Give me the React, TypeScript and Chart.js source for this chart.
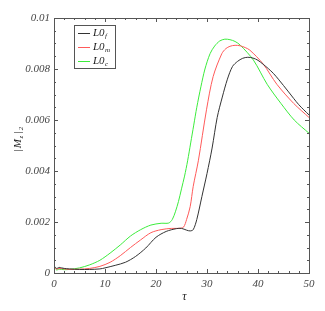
import React, { useEffect, useRef } from "react";
import { Chart, registerables } from "chart.js";
Chart.register(...registerables);

const seriesBase = ["L0", "L0", "L0"];
const seriesSubs = ["f", "m", "c"];
const seriesColors = ["#333333", "#ff5a5a", "#3cec3c"];

const tauF = [0, 0.5, 1, 1.5, 2, 3, 5, 7, 9, 10, 12, 14, 16, 18, 20, 22, 24, 25, 26, 26.7, 27.3, 28, 29, 30, 31, 32, 33, 34, 35, 36, 37, 38, 39, 40, 42, 43, 44, 46, 48, 50];
const valF = [0.00028, 0.00018, 0.00022, 0.0002, 0.00018, 0.00016, 0.00014, 0.00014, 0.00016, 0.0002, 0.0003, 0.00042, 0.00065, 0.00098, 0.0014, 0.00163, 0.00174, 0.00175, 0.00168, 0.00165, 0.0017, 0.0021, 0.003, 0.0039, 0.0049, 0.0061, 0.0069, 0.0076, 0.0081, 0.0083, 0.00842, 0.00846, 0.00843, 0.00834, 0.00802, 0.00783, 0.0076, 0.0071, 0.0066, 0.0062];

const tauM = [0, 0.5, 1, 2, 3, 5, 7, 9, 11, 13, 15, 17, 19, 21, 23, 24.5, 25.4, 26, 26.7, 27.3, 28.3, 29.9, 31.2, 32.9, 33.7, 34.5, 35.5, 36.5, 37.5, 38.4, 41, 43.7, 47, 50];
const valM = [0.00025, 0.00015, 0.00018, 0.00016, 0.00014, 0.00015, 0.00018, 0.00026, 0.00042, 0.00068, 0.001, 0.0013, 0.00158, 0.0017, 0.00175, 0.00175, 0.0018, 0.0021, 0.0026, 0.0034, 0.0044, 0.0064, 0.0077, 0.0086, 0.0088, 0.00889, 0.00893, 0.00891, 0.00884, 0.00874, 0.0082, 0.0074, 0.00665, 0.0061];

const tauC = [0, 0.5, 1, 2, 3, 5, 7, 9, 11, 13, 15, 17, 19, 21, 22.5, 23.2, 23.8, 24.4, 25, 25.6, 26.2, 26.8, 27.4, 28, 28.8, 29.6, 30.6, 31.5, 32.5, 33.5, 34.5, 35.5, 36.5, 39.1, 41.8, 44.5, 47.1, 50];
const valC = [0.00025, 0.00012, 0.00015, 0.00013, 0.00014, 0.0002, 0.00032, 0.0005, 0.00078, 0.0011, 0.00145, 0.0017, 0.00188, 0.00195, 0.00196, 0.0021, 0.0024, 0.0028, 0.0033, 0.0038, 0.0044, 0.0051, 0.0058, 0.0065, 0.0073, 0.0080, 0.0086, 0.0089, 0.0091, 0.00917, 0.00915, 0.00908, 0.00894, 0.00835, 0.0074, 0.00665, 0.006, 0.00548];

const xTickValues = [0, 10, 20, 30, 40, 50];
const yTickValues = [0, 0.002, 0.004, 0.006, 0.008, 0.01];
const yTickLabels = ["0", "0.002", "0.004", "0.006", "0.008", "0.01"];

const SERIF = "'Liberation Serif', 'Times New Roman', serif";

const framePlugin = {
  id: "frame",
  afterDraw(chart: any) {
    const { ctx, chartArea: a, scales } = chart;
    const xs = scales.x;
    const ys = scales.y;
    ctx.save();
    ctx.strokeStyle = "#555";
    ctx.lineWidth = 1;
    ctx.strokeRect(a.left + 0.5, a.top + 0.5, a.right - a.left, a.bottom - a.top);
    ctx.beginPath();
    for (let v = 0; v <= 50.001; v += 2) {
      const px = Math.round(xs.getPixelForValue(v)) + 0.5;
      const len = Math.abs(v % 10) < 0.001 ? 4 : 2;
      ctx.moveTo(px, a.bottom);
      ctx.lineTo(px, a.bottom - len);
      ctx.moveTo(px, a.top);
      ctx.lineTo(px, a.top + len);
    }
    for (let i = 0; i <= 20; i++) {
      const v = i * 0.0005;
      const py = Math.round(ys.getPixelForValue(v)) + 0.5;
      const len = i % 4 === 0 ? 4 : 2;
      ctx.moveTo(a.left, py);
      ctx.lineTo(a.left + len, py);
      ctx.moveTo(a.right, py);
      ctx.lineTo(a.right - len, py);
    }
    ctx.stroke();

    // legend
    const lx = 74, ly = 25, lw = 41, lh = 43;
    ctx.fillStyle = "#fff";
    ctx.fillRect(lx, ly, lw, lh);
    ctx.strokeStyle = "#555";
    ctx.strokeRect(lx + 0.5, ly + 0.5, lw, lh);
    chart.data.datasets.forEach((ds: any, i: number) => {
      const y = ly + 8 + i * 14;
      ctx.strokeStyle = ds.borderColor;
      ctx.beginPath();
      ctx.moveTo(lx + 4, y + 0.5);
      ctx.lineTo(lx + 16, y + 0.5);
      ctx.stroke();
      ctx.fillStyle = "#222";
      ctx.textBaseline = "middle";
      ctx.textAlign = "left";
      ctx.font = `italic 11px ${SERIF}`;
      ctx.fillText(seriesBase[i], lx + 19, y);
      const w = ctx.measureText(seriesBase[i]).width;
      ctx.font = `italic 7px ${SERIF}`;
      ctx.fillText(seriesSubs[i], lx + 19 + w + 0.5, y + 3);
    });

    // y title |M_z|_2
    ctx.save();
    ctx.translate(18, (a.top + a.bottom) / 2 - 6);
    ctx.rotate(-Math.PI / 2);
    ctx.fillStyle = "#222";
    ctx.textBaseline = "middle";
    ctx.textAlign = "left";
    const parts: [string, number, number, number][] = [["|", 11, 0, 1], ["M", 11, 0, 0.5], ["z", 7, 3, 1.5], ["|", 11, 0, 1], ["2", 7, 3, 0]];
    let total = 0;
    parts.forEach(([t, s, , g]) => {
      ctx.font = `italic ${s}px ${SERIF}`;
      total += ctx.measureText(t).width + g;
    });
    let cx = -total / 2;
    parts.forEach(([t, s, dy, g]) => {
      ctx.font = `italic ${s}px ${SERIF}`;
      ctx.fillText(t, cx, dy);
      cx += ctx.measureText(t).width + g;
    });
    ctx.restore();

    // x title
    ctx.fillStyle = "#222";
    ctx.font = `italic 12px ${SERIF}`;
    ctx.textAlign = "center";
    ctx.textBaseline = "middle";
    ctx.fillText("τ", (a.left + a.right) / 2 + 3, 297);
    ctx.restore();
  },
};

export default function App() {
  const ref = useRef<HTMLCanvasElement | null>(null);
  useEffect(() => {
    if (!ref.current) return;
    const mk = (t: number[], v: number[]) => t.map((x, i) => ({ x, y: v[i] }));
    const chart = new Chart(ref.current, {
      type: "line",
      data: {
        datasets: [
          { label: "L0f", data: mk(tauF, valF), borderColor: seriesColors[0] },
          { label: "L0m", data: mk(tauM, valM), borderColor: seriesColors[1] },
          { label: "L0c", data: mk(tauC, valC), borderColor: seriesColors[2] },
        ].map((d) => ({ ...d, borderWidth: 1, pointRadius: 0, fill: false, tension: 0.3 })),
      },
      options: {
        responsive: false,
        animation: false,
        layout: { padding: { top: 18, right: 16, left: 0, bottom: 0 } },
        plugins: { legend: { display: false }, tooltip: { enabled: false } },
        scales: {
          x: {
            type: "linear",
            min: 0,
            max: 50,
            afterFit: (s: any) => { s.height = 38; },
            afterBuildTicks: (s: any) => { s.ticks = xTickValues.map((value) => ({ value })); },
            grid: { display: false, drawTicks: false },
            border: { display: false },
            ticks: { padding: 5, color: "#444", maxRotation: 0, font: { family: SERIF, style: "italic", size: 11 } },
          },
          y: {
            type: "linear",
            min: 0,
            max: 0.01,
            afterFit: (s: any) => { s.width = 54; },
            afterBuildTicks: (s: any) => { s.ticks = yTickValues.map((value) => ({ value })); },
            grid: { display: false, drawTicks: false },
            border: { display: false },
            ticks: {
              padding: 4,
              color: "#444",
              font: { family: SERIF, style: "italic", size: 11 },
              callback: (v: any) => {
                const i = yTickValues.findIndex((t) => Math.abs(t - Number(v)) < 1e-9);
                return i >= 0 ? yTickLabels[i] : "";
              },
            },
          },
        },
      },
      plugins: [framePlugin],
    });
    return () => chart.destroy();
  }, []);
  return (
    <div style={{ position: "absolute", left: 0, top: 0, width: 325, height: 311, background: "#fff" }}>
      <canvas ref={ref} width={325} height={311} />
    </div>
  );
}
